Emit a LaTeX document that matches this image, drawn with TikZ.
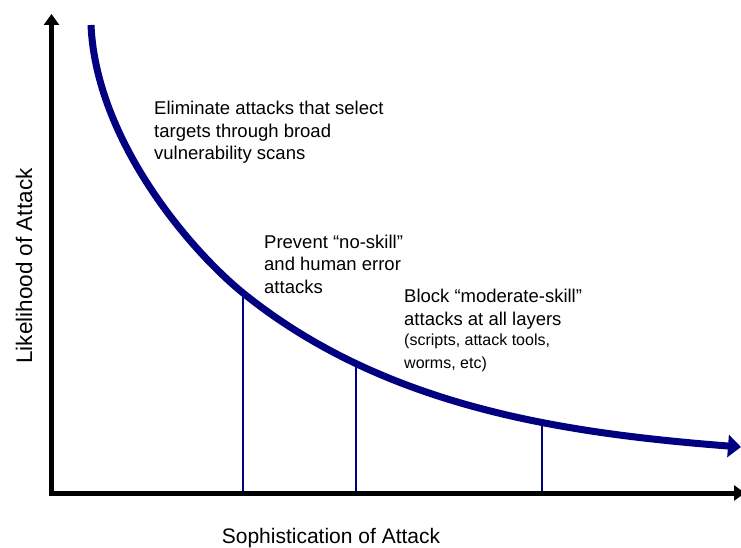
\documentclass[tikz,border=0pt]{standalone}
\usepackage{fontspec}
\setmainfont{Liberation Sans}
\usetikzlibrary{arrows.meta,positioning}
\definecolor{curvenavy}{HTML}{000080}
\newcommand{\notesmall}{\fontsize{16}{23}\selectfont}
\tikzset{
  laxis/.style={line width=5pt,draw=black,-{Triangle[length=11pt,width=15pt]}},
  lcurve/.style={-{Triangle[length=13pt,width=22pt]},line width=7pt,draw=curvenavy},
  lmark/.style={line width=2pt,draw=curvenavy},
  lnote/.style={anchor=base west,align=left,inner sep=0pt,font=\fontsize{18.5}{22.5}\selectfont},
  llabel/.style={anchor=base,inner sep=0pt}
}

\begin{document}
\begin{tikzpicture}[x=1pt,y=-1pt]
  \useasboundingbox (0,0) rectangle (741,548);
  % one unit = one pixel of the frame, y runs downwards
  \coordinate (o) at (51.5,493);
  \coordinate (ytop) at (51.5,14);
  \coordinate (xstart) at (49,493);
  \coordinate (xend) at (745,493);
  \coordinate (c0) at (91,25);
  \coordinate (m1) at (243,293);
  \coordinate (m2) at (356,364);
  \coordinate (m3) at (542,423);
  \coordinate (cend) at (741,447);
  \draw[lmark] (m1) -- (m1 |- o);
  \draw[lmark] (m2) -- (m2 |- o);
  \draw[lmark] (m3) -- (m3 |- o);
  \draw[lcurve] (c0) .. controls (96,140) and (190,250) .. (m1)
    .. controls (383,406) and (560,433) .. (cend);
  \draw[laxis] (o) -- (ytop);
  \draw[laxis] (xstart) -- (xend);
  \node[lnote] (elim) at (154,160) {Eliminate attacks that select\\targets through broad\\vulnerability scans};
  \node[lnote] (prevent) at (264,293) {Prevent ``no-skill''\\and human error\\attacks};
  \node[lnote] (block) at (404,368) {Block ``moderate-skill''\\attacks at all layers\\[-2pt]\notesmall (scripts, attack tools,\\\notesmall worms, etc)};
  \node[llabel,rotate=90,font=\fontsize{22.5}{26}\selectfont] (ylab) at (32,266) {Likelihood of Attack};
  \node[llabel,font=\fontsize{21}{25}\selectfont] (xlab) at (331,543) {Sophistication of Attack};
\end{tikzpicture}
\end{document}
